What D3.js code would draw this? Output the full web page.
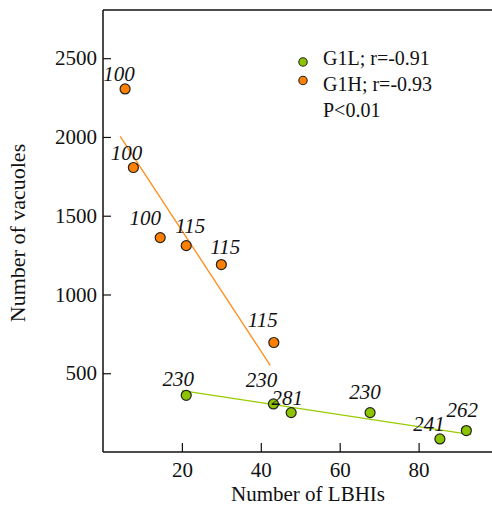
<!DOCTYPE html>
<html>
<head>
<meta charset="utf-8">
<script src="https://cdn.jsdelivr.net/npm/d3@7"></script>
<style>
  html, body { margin: 0; padding: 0; background: #fff; }
  svg { display: block; }
  text { font-family: "Liberation Serif", "Times New Roman", Times, serif; fill: #111; }
</style>
</head>
<body>
<svg id="chart" width="492" height="505"></svg>
<script>
// ---- data ----
const g1hX = [5.6, 7.7, 14.5, 21.1, 30.0, 43.3];
const g1hY = [2305, 1806, 1361, 1310, 1190, 695];
const g1hLabels = ["100", "100", "100", "115", "115", "115"];
const g1lX = [21.1, 43.2, 47.7, 67.7, 85.4, 92.1];
const g1lY = [360, 305, 250, 250, 83, 136];
const g1lLabels = ["230", "230", "281", "230", "241", "262"];
const g1hFitX = [4.35, 42.4];
const g1hFitY = [2004, 550];
const g1lFitX = [20.0, 93.3];
const g1lFitY = [390, 110];
const xTicks = [20, 40, 60, 80];
const yTicks = [500, 1000, 1500, 2000, 2500];
const legendTexts = ["G1L; r=-0.91", "G1H; r=-0.93", "P<0.01"];

// ---- layout (label offsets in px, relative to each point) ----
const g1hLabelOff = [[-6, -8], [-7, -8], [-15, -13], [4, -13], [4, -11], [-11, -16]];
const g1lLabelOff = [[-8, -9], [-12, -17], [-4, -8], [-5, -14], [-11, -8], [-4, -14]];

const ORANGE = "#ff8000", GREEN = "#8cc400";
const ORANGE_LINE = "#ff8c1a", GREEN_LINE = "#99cc00";

const svg = d3.select("#chart");
const pLeft = 103, pTop = 10, pBottom = 452, pRight = 492;

const x = d3.scaleLinear().domain([0, 100]).range([pLeft, pLeft + 394.5]);
const y = d3.scaleLinear().domain([0, 2806]).range([pBottom, pTop]);

// top border
svg.append("line").attr("x1", pLeft).attr("x2", pRight).attr("y1", pTop).attr("y2", pTop)
  .attr("stroke", "#111").attr("stroke-width", 1.5);

// y axis
const yAxis = svg.append("g").attr("transform", `translate(${pLeft},0)`)
  .call(d3.axisLeft(y).tickValues(yTicks).tickFormat(d3.format("d"))
    .tickSizeInner(-8).tickSizeOuter(0).tickPadding(6));
yAxis.attr("font-family", null).attr("font-size", null);
yAxis.select(".domain").attr("d", `M0,${pTop}V${pBottom}`).attr("stroke", "#111").attr("stroke-width", 1.5);
yAxis.selectAll(".tick line").attr("stroke", "#111").attr("stroke-width", 1.2);
yAxis.selectAll("text").style("font-size", "21px").attr("fill", "#111");

// x axis
const xAxis = svg.append("g").attr("transform", `translate(0,${pBottom})`)
  .call(d3.axisBottom(x).tickValues(xTicks).tickFormat(d3.format("d"))
    .tickSizeInner(-9).tickSizeOuter(0).tickPadding(10));
xAxis.attr("font-family", null).attr("font-size", null);
xAxis.select(".domain").attr("d", `M${pLeft},0H${pRight}`).attr("stroke", "#111").attr("stroke-width", 1.5);
xAxis.selectAll(".tick line").attr("stroke", "#111").attr("stroke-width", 1.2);
xAxis.selectAll("text").style("font-size", "21px").attr("fill", "#111");

// axis titles
svg.append("text").attr("x", 308).attr("y", 501).attr("text-anchor", "middle")
  .style("font-size", "21px").text("Number of LBHIs");
svg.append("text").attr("transform", "translate(25,233) rotate(-90)").attr("text-anchor", "middle")
  .style("font-size", "22px").text("Number of vacuoles");

// fit lines
const line = d3.line().x(d => x(d[0])).y(d => y(d[1]));
svg.append("path").datum(g1hFitX.map((v, i) => [v, g1hFitY[i]]))
  .attr("d", line).attr("stroke", ORANGE_LINE).attr("stroke-width", 1.3).attr("fill", "none");
svg.append("path").datum(g1lFitX.map((v, i) => [v, g1lFitY[i]]))
  .attr("d", line).attr("stroke", GREEN_LINE).attr("stroke-width", 1.3).attr("fill", "none");

function drawSeries(xs, ys, labels, offs, color) {
  const data = xs.map((v, i) => ({ x: v, y: ys[i], label: labels[i], off: offs[i] }));
  svg.append("g").selectAll("circle").data(data).join("circle")
    .attr("cx", d => x(d.x)).attr("cy", d => y(d.y)).attr("r", 5)
    .attr("fill", color).attr("stroke", "#222").attr("stroke-width", 1.2);
  svg.append("g").selectAll("text").data(data).join("text")
    .attr("x", d => x(d.x) + d.off[0]).attr("y", d => y(d.y) + d.off[1])
    .attr("text-anchor", "middle").style("font-style", "italic").style("font-size", "21px")
    .text(d => d.label);
}
drawSeries(g1hX, g1hY, g1hLabels, g1hLabelOff, ORANGE);
drawSeries(g1lX, g1lY, g1lLabels, g1lLabelOff, GREEN);

// legend
const legColors = [GREEN, ORANGE];
const leg = svg.append("g");
legColors.forEach((c, i) => {
  leg.append("circle").attr("cx", 303).attr("cy", 62 + i * 18.5).attr("r", 4.2)
    .attr("fill", c).attr("stroke", "#222").attr("stroke-width", 1.1);
});
legendTexts.forEach((t, i) => {
  leg.append("text").attr("x", 323).attr("y", 65 + i * 26).style("font-size", "20px").text(t);
});
</script>
</body>
</html>
